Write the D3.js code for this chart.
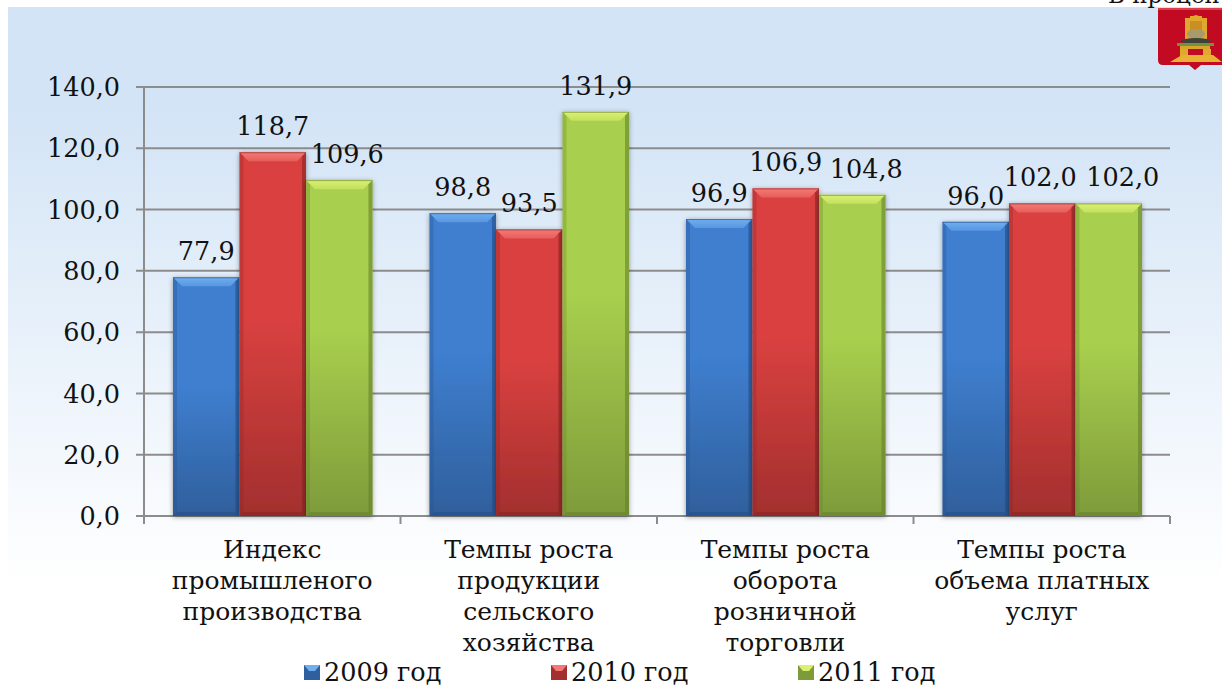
<!DOCTYPE html>
<html lang="ru">
<head>
<meta charset="UTF-8">
<title>Темпы роста</title>
<script src="https://d3js.org/d3.v7.min.js"></script>
<style>
  body { margin: 0; background: #fff; }
  svg { display: block; }
  text { font-family: "DejaVu Serif", serif; fill: #111; }
</style>
</head>
<body>
<svg id="chart" width="1222" height="686"></svg>
<script>
const categories = ["Индекс промышленого производства", "Темпы роста продукции сельского хозяйства", "Темпы роста оборота розничной торговли", "Темпы роста объема платных услуг"];
const categoryLines = [
  ["Индекс", "промышленого", "производства"],
  ["Темпы роста", "продукции", "сельского", "хозяйства"],
  ["Темпы роста", "оборота", "розничной", "торговли"],
  ["Темпы роста", "объема платных", "услуг"]
];
const seriesNames = ["2009 год", "2010 год", "2011 год"];
const values2009 = [77.9, 98.8, 96.9, 96.0];
const values2010 = [118.7, 93.5, 106.9, 102.0];
const values2011 = [109.6, 131.9, 104.8, 102.0];
const yTicks = [0, 20, 40, 60, 80, 100, 120, 140];

const palette = [
  { main: "#3f7fd0", dark: "#2f5f9c", top: "#70aef0", side: "#234f88" },
  { main: "#da4140", dark: "#a32f2e", top: "#f47a76", side: "#8a2524" },
  { main: "#a8cf4e", dark: "#7e9b3a", top: "#dcf070", side: "#66802c" }
];

const svg = d3.select("#chart");
const fmt = v => v.toFixed(1).replace(".", ",");
const defs = svg.append("defs");

const bgGrad = defs.append("linearGradient").attr("id", "bg").attr("x1", 0).attr("x2", 0).attr("y1", 0).attr("y2", 1);
bgGrad.append("stop").attr("offset", "0%").attr("stop-color", "#d3e4f6");
bgGrad.append("stop").attr("offset", "15%").attr("stop-color", "#d3e4f6");
bgGrad.append("stop").attr("offset", "85%").attr("stop-color", "#ffffff");

palette.forEach((p, i) => {
  const g = defs.append("linearGradient").attr("id", "bar" + i).attr("x1", 0).attr("x2", 0).attr("y1", 0).attr("y2", 1);
  g.append("stop").attr("offset", "0%").attr("stop-color", p.main);
  g.append("stop").attr("offset", "45%").attr("stop-color", p.main);
  g.append("stop").attr("offset", "100%").attr("stop-color", p.dark);
  const t = defs.append("linearGradient").attr("id", "bevel" + i).attr("x1", 0).attr("x2", 0).attr("y1", 0).attr("y2", 1);
  t.append("stop").attr("offset", "0%").attr("stop-color", p.top);
  t.append("stop").attr("offset", "100%").attr("stop-color", d3.interpolateRgb(p.top, p.main)(0.5));
});

const shadow = defs.append("filter").attr("id", "shadow").attr("x", "-15%").attr("y", "-5%").attr("width", "130%").attr("height", "110%");
shadow.append("feDropShadow").attr("dx", 0).attr("dy", 1).attr("stdDeviation", 2.5).attr("flood-color", "#000").attr("flood-opacity", 0.4);

svg.append("rect").attr("x", 8).attr("y", 7).attr("width", 1214).attr("height", 679).attr("fill", "url(#bg)");

// header text, the slide edge cuts it off in the original too
svg.append("text").attr("x", 1108).attr("y", 3).style("font-size", "23px").text("В процентах");

const x0 = d3.scaleBand().domain(categories).range([144, 1170]);
const x1 = d3.scaleBand().domain(seriesNames).range([29, 228.5]);
const y = d3.scaleLinear().domain([0, 140]).range([516, 87]);

const gridColor = "#8c8c8c";
svg.append("g").selectAll("line").data(yTicks).enter().append("line")
  .attr("x1", 136).attr("x2", 1170)
  .attr("y1", d => y(d)).attr("y2", d => y(d))
  .attr("stroke", gridColor).attr("stroke-width", 2);
svg.append("line").attr("x1", 144).attr("x2", 144).attr("y1", 87).attr("y2", 524).attr("stroke", gridColor).attr("stroke-width", 2);
svg.append("g").selectAll("line").data(d3.range(5)).enter().append("line")
  .attr("x1", i => 144 + i * x0.bandwidth()).attr("x2", i => 144 + i * x0.bandwidth())
  .attr("y1", 516).attr("y2", 524).attr("stroke", gridColor).attr("stroke-width", 2);

svg.append("g").selectAll("text").data(yTicks).enter().append("text")
  .attr("x", 120).attr("y", d => y(d)).attr("dy", "0.36em").attr("text-anchor", "end")
  .style("font-size", "25.5px").text(fmt);

const allValues = [values2009, values2010, values2011];
const bev = 9;
const edge = 4;

categories.forEach((cat, c) => {
  const group = svg.append("g").attr("transform", `translate(${x0(cat)},0)`);
  seriesNames.forEach((name, s) => {
    const v = allValues[s][c];
    const bx = x1(name), w = x1.bandwidth(), by = y(v), bb = y(0);
    const bar = group.append("g");
    bar.append("rect").attr("x", bx).attr("y", by).attr("width", w).attr("height", bb - by)
      .attr("fill", `url(#bar${s})`).attr("filter", "url(#shadow)");
    // bevel edges
    bar.append("polygon").attr("fill", `url(#bevel${s})`)
      .attr("points", [[bx, by], [bx + w, by], [bx + w - bev, by + bev], [bx + bev, by + bev]].join(" "));
    bar.append("polygon").attr("fill", palette[s].side).attr("opacity", 0.6)
      .attr("points", [[bx + w, by], [bx + w, bb], [bx + w - edge, bb - edge], [bx + w - edge, by + edge]].join(" "));
    bar.append("polygon").attr("fill", palette[s].side).attr("opacity", 0.3)
      .attr("points", [[bx, by], [bx, bb], [bx + edge, bb - edge], [bx + edge, by + edge]].join(" "));
    bar.append("polygon").attr("fill", palette[s].side).attr("opacity", 0.6)
      .attr("points", [[bx, bb], [bx + w, bb], [bx + w - edge, bb - edge], [bx + edge, bb - edge]].join(" "));
    bar.append("line").attr("x1", bx).attr("x2", bx + w).attr("y1", by + 0.5).attr("y2", by + 0.5)
      .attr("stroke", palette[s].side).attr("opacity", 0.6);
  });
});

// the labels were nudged by hand in the original so they would not collide
function labelShift(c, s) {
  if (s !== 2) return (c === 3 && s === 1) ? -2 : 0;
  return [8, 0, 14, 14][c];
}

categories.forEach((cat, c) => {
  seriesNames.forEach((name, s) => {
    const v = allValues[s][c];
    svg.append("text")
      .attr("x", x0(cat) + x1(name) + x1.bandwidth() / 2 + labelShift(c, s))
      .attr("y", y(v) - 17)
      .attr("text-anchor", "middle").style("font-size", "25.5px").text(fmt(v));
  });
});

categories.forEach((cat, c) => {
  svg.append("g").selectAll("text").data(categoryLines[c]).enter().append("text")
    .attr("x", x0(cat) + x0.bandwidth() / 2)
    .attr("y", (d, i) => 558 + i * 31)
    .attr("text-anchor", "middle").style("font-size", "25px").text(d => d);
});

const legendX = [304, 551, 798];
seriesNames.forEach((name, s) => {
  const g = svg.append("g").attr("transform", `translate(${legendX[s]},665)`);
  g.append("rect").attr("width", 16).attr("height", 15).attr("fill", palette[s].dark);
  g.append("polygon").attr("fill", palette[s].top).attr("points", "0,0 16,0 11,6 5,6");
  g.append("text").attr("x", 20).attr("y", 16).style("font-size", "25.5px").text(name);
});

// coat of arms in the corner
const arms = svg.append("g");
arms.append("path").attr("d", "M1158,8 H1222 V65 H1201 L1195,70 L1189,65 H1163 Q1158,65 1158,60 Z").attr("fill", "#c20a22");
arms.append("rect").attr("x", 1158).attr("y", 8).attr("width", 64).attr("height", 2).attr("fill", "#d8404a");
arms.append("path").attr("d", "M1185,18 L1190,18 L1190,16 L1193,16 L1196,15 L1199,16 L1202,16 L1202,18 L1207,18 V39 H1185 Z").attr("fill", "#e0a92e");
arms.append("rect").attr("x", 1190).attr("y", 21).attr("width", 12).attr("height", 12).attr("fill", "#c98f24");
arms.append("ellipse").attr("cx", 1196).attr("cy", 34).attr("rx", 9).attr("ry", 5).attr("fill", "#a89a6a");
arms.append("ellipse").attr("cx", 1196).attr("cy", 41).attr("rx", 15).attr("ry", 3).attr("fill", "#3e4238");
arms.append("rect").attr("x", 1177).attr("y", 43).attr("width", 37).attr("height", 3).attr("fill", "#6f9340");
arms.append("rect").attr("x", 1180).attr("y", 46).attr("width", 30).attr("height", 3).attr("fill", "#d9a42c");
arms.append("rect").attr("x", 1180).attr("y", 49).attr("width", 8).attr("height", 7).attr("fill", "#e0a92e");
arms.append("rect").attr("x", 1203).attr("y", 49).attr("width", 8).attr("height", 7).attr("fill", "#e0a92e");
arms.append("polygon").attr("points", "1170,62 1182,55 1213,55 1222,62").attr("fill", "#e8b232");
</script>
</body>
</html>
